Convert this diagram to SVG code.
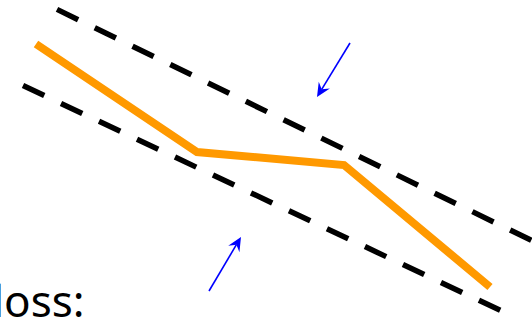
<svg xmlns="http://www.w3.org/2000/svg" width="532" height="321" viewBox="0 0 532 321">
<defs>
<style>
.bound{fill:none;stroke:#000;stroke-width:5.5;stroke-dasharray:23.5 18.5}
.curve{fill:none;stroke:#ff9900;stroke-width:8;stroke-linejoin:miter}
.arr{fill:none;stroke:#0000ff;stroke-width:1.6}
.lbl{font-family:"Noto Sans",sans-serif;font-size:44px;fill:#000}
</style>
<marker id="ah" viewBox="-15 -7 16 14" refX="-9" refY="0" markerWidth="16" markerHeight="14" markerUnits="userSpaceOnUse" orient="auto">
<path d="M0,0 L-14,-6.5 L-9,0 L-14,6.5 Z" fill="#0000ff"/>
</marker>
</defs>
<rect width="532" height="321" fill="#fff"/>
<g id="bounds">
<line class="bound" x1="57" y1="9.4" x2="545" y2="247"/>
<line class="bound" x1="23" y1="85.5" x2="501" y2="310.7"/>
</g>
<g id="curve">
<polyline class="curve" points="36,44 197,152 344,165 490,287"/>
</g>
<g id="arrows">
<line class="arr" x1="209" y1="291" x2="236.4" y2="244.7" marker-end="url(#ah)"/>
<line class="arr" x1="350" y1="43" x2="321.7" y2="89.3" marker-end="url(#ah)"/>
</g>
<g id="label">
<text class="lbl" x="-7.3" y="317">loss:</text>
</g>
</svg>
